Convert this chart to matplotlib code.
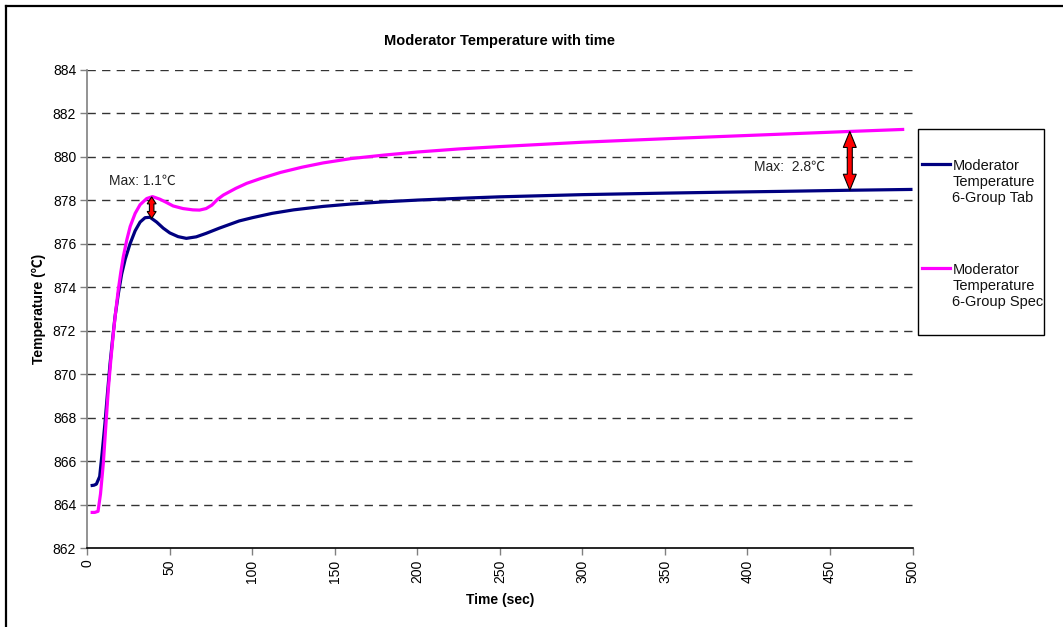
import numpy as np
import matplotlib
matplotlib.use("Agg")
import matplotlib.pyplot as plt
from matplotlib.patches import Polygon, Rectangle
from matplotlib.lines import Line2D

plt.rcParams['font.family'] = ['Liberation Sans', 'Noto Sans CJK SC', 'DejaVu Sans']

# Moderator temperature, 6-group tabulated cross sections
t_tab = [2, 4, 5.5, 7.5, 9, 10.7, 12.3, 13.8, 15.3, 16.8, 18.8, 20.8, 23, 25.9, 29, 32, 35, 38,
         42, 46, 50, 55, 60, 66, 72, 80, 92, 100, 112, 125, 143, 160, 180, 200, 225, 250,
         300, 350, 383, 420, 460, 500]
temp_tab = [864.88, 864.9, 864.95, 865.3, 866.4, 867.75, 869.2, 870.5, 871.6, 872.65, 873.7,
            874.6, 875.3, 876.0, 876.6, 877.0, 877.2, 877.22, 877.0, 876.72, 876.5, 876.33,
            876.25, 876.32, 876.48, 876.72, 877.05, 877.2, 877.4, 877.56, 877.72, 877.83,
            877.93, 878.01, 878.09, 878.16, 878.26, 878.33, 878.37, 878.41, 878.46, 878.5]

# Moderator temperature, 6-group spectral cross sections
t_spec = [2, 4.5, 6.5, 8, 9.7, 11.2, 12.7, 14.3, 15.8, 17.3, 18.8, 20.3, 21.8, 24, 26, 29, 32,
          36, 39.5, 44, 48, 52, 58, 64, 68, 72, 75.5, 79, 82.4, 90, 96.6, 105, 117, 130, 143,
          160, 180, 200, 225, 250, 300, 350, 383, 420, 460, 495]
temp_spec = [863.65, 863.65, 863.7, 864.5, 865.9, 867.6, 869.28, 870.7, 871.9, 872.95, 873.9,
             874.7, 875.4, 876.2, 876.8, 877.4, 877.8, 878.08, 878.17, 878.05, 877.9, 877.74,
             877.62, 877.56, 877.55, 877.62, 877.78, 878.05, 878.24, 878.55, 878.78, 879.0,
             879.28, 879.52, 879.72, 879.92, 880.08, 880.22, 880.36, 880.47, 880.67, 880.83,
             880.93, 881.04, 881.16, 881.26]

series_labels = ["Moderator\nTemperature\n6-Group Tab", "Moderator\nTemperature\n6-Group Spec"]
series_colors = ["#000080", "#FF00FF"]

# Times at which the maximum difference is marked
diff_times = [39, 462]
diff_labels = ["Max: 1.1\u2103", "Max:  2.8\u2103"]

x_ticks = list(range(0, 501, 50))
y_ticks = list(range(862, 885, 2))

W, H = 1063, 627
fig = plt.figure(figsize=(W / 100, H / 100), dpi=100)
ax = fig.add_axes([87.3 / W, 1 - 548.3 / H, (912.5 - 87.3) / W, (548.3 - 69.8) / H])

ax.set_xlim(0, 500)
ax.set_ylim(862, 884)

for yv in y_ticks[1:]:
    ax.axhline(yv, color="#333333", lw=1.0, ls=(0, (6, 4.5)), zorder=1)

ax.plot(t_tab, temp_tab, color=series_colors[0], lw=2.3, zorder=3, solid_capstyle="butt")
ax.plot(t_spec, temp_spec, color=series_colors[1], lw=2.3, zorder=3, solid_capstyle="butt")


def double_arrow(ax, x, y0, y1, head_w, shaft_w, head_len):
    """Fat double-headed arrow between y0 and y1 at x; sizes in pixels."""
    sx = 825.2 / 500.0        # pixels per second
    sy = 478.5 / 22.0         # pixels per degree
    hw = head_w / 2 / sx
    sw = shaft_w / 2 / sx
    hl = head_len / sy
    lo, hi = min(y0, y1), max(y0, y1)
    verts = [
        (x, lo), (x + hw, lo + hl), (x + sw, lo + hl), (x + sw, hi - hl),
        (x + hw, hi - hl), (x, hi), (x - hw, hi - hl), (x - sw, hi - hl),
        (x - sw, lo + hl), (x - hw, lo + hl),
    ]
    ax.add_patch(Polygon(verts, closed=True, fc="#FF0000", ec="black", lw=0.8, zorder=5))


t1, t2 = diff_times
double_arrow(ax, t1, np.interp(t1, t_tab, temp_tab), np.interp(t1, t_spec, temp_spec),
             9, 4.5, 7)
double_arrow(ax, t2, np.interp(t2, t_tab, temp_tab), np.interp(t2, t_spec, temp_spec),
             13, 5, 16)

ax.text(13, 878.9, diff_labels[0], fontsize=10, color="#222222", ha="left", va="center")
ax.text(404, 879.55, diff_labels[1], fontsize=10, color="#222222", ha="left", va="center")

ax.set_xticks(x_ticks)
ax.set_xticklabels([str(v) for v in x_ticks], rotation=90, fontsize=10)
ax.set_yticks(y_ticks)
ax.set_yticklabels([str(v) for v in y_ticks], fontsize=10)
ax.tick_params(axis="both", direction="out", length=5, width=1, color="#808080", pad=3)

for s in ["top", "right"]:
    ax.spines[s].set_visible(False)
ax.spines["left"].set_color("#808080")
ax.spines["bottom"].set_color("black")
ax.spines["left"].set_linewidth(1.2)
ax.spines["bottom"].set_linewidth(1.2)

ax.set_title("Moderator Temperature with time", fontsize=10.5, fontweight="bold", pad=18)
ax.set_xlabel("Time (sec)", fontsize=10, fontweight="bold", labelpad=7)
ax.set_ylabel("Temperature (\u2103)", fontsize=10, fontweight="bold", labelpad=5)

# Legend box drawn in figure pixel coordinates
def fx(px):
    return px / W


def fy(py):
    return 1 - py / H


fig.add_artist(Rectangle((fx(918.3), fy(335)), fx(1044) - fx(918.3), fy(129.3) - fy(335),
                         transform=fig.transFigure, fill=False, ec="black", lw=1.0))
for (line_y, label, color) in [(163.5, series_labels[0], series_colors[0]),
                               (267.5, series_labels[1], series_colors[1])]:
    fig.add_artist(Line2D([fx(921.5), fx(950)], [fy(line_y), fy(line_y)],
                          transform=fig.transFigure, color=color, lw=2.3))
    fig.text(fx(952.5), fy(line_y - 4), label, fontsize=10.5, ha="left", va="top",
             linespacing=1.18, color="#111111")

# Outer frame (top and left edges)
fig.add_artist(Line2D([fx(6), fx(6)], [fy(6), 0], transform=fig.transFigure, color="black", lw=1.6))
fig.add_artist(Line2D([fx(6), 1], [fy(6), fy(6)], transform=fig.transFigure, color="black", lw=1.6))

fig.savefig("out.png", dpi=100)
